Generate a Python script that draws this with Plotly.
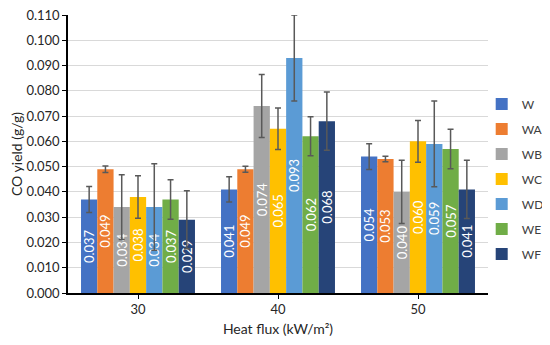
import plotly.graph_objects as go

categories = ["30", "40", "50"]
series_names = ["W", "WA", "WB", "WC", "WD", "WE", "WF"]
values = {
    "W":  [0.037, 0.041, 0.054],
    "WA": [0.049, 0.049, 0.053],
    "WB": [0.034, 0.074, 0.040],
    "WC": [0.038, 0.065, 0.060],
    "WD": [0.034, 0.093, 0.059],
    "WE": [0.037, 0.062, 0.057],
    "WF": [0.029, 0.068, 0.041],
}
errors = {
    "W":  [0.0051, 0.0050, 0.0051],
    "WA": [0.0013, 0.0012, 0.0011],
    "WB": [0.0128, 0.0125, 0.0125],
    "WC": [0.0084, 0.0082, 0.0083],
    "WD": [0.0171, 0.0170, 0.0170],
    "WE": [0.0078, 0.0077, 0.0078],
    "WF": [0.0115, 0.0115, 0.0115],
}
colors = ["#4472C4", "#ED7D31", "#A5A5A5", "#FFC000", "#5B9BD5", "#70AD47", "#264478"]
y_ticks = [round(i * 0.01, 2) for i in range(12)]

FONT = "Lato, Open Sans, sans-serif"

fig = go.Figure()
for name, col in zip(series_names, colors):
    fig.add_trace(go.Bar(
        name=name,
        legendgroup=name,
        x=categories,
        y=values[name],
        marker=dict(color=col, line=dict(width=0)),
        error_y=dict(type="data", array=errors[name], visible=True,
                     color="#595959", thickness=1.5, width=3),
        text=[f"{v:.3f}" for v in values[name]],
        textposition="inside",
        insidetextanchor="middle",
        textangle=-90,
        textfont=dict(color="white", size=13, family=FONT),
        constraintext="none",
        cliponaxis=False,
    ))

# page body adds an 8px offset; size the figure so the page does not overflow the window
fig.update_layout(
    barmode="group",
    bargap=0.186,
    bargroupgap=0,
    width=534, height=329,
    margin=dict(l=60, r=54, t=7, b=44, autoexpand=False),
    plot_bgcolor="white",
    paper_bgcolor="white",
    font=dict(family=FONT, size=13, color="#262626"),
    uniformtext=dict(mode="show", minsize=13),
    legend=dict(
        x=0.985, y=0.41, xanchor="left", yanchor="middle",
        font=dict(size=12, color="#404040", family=FONT),
        itemwidth=30, tracegroupgap=6,
        bgcolor="rgba(0,0,0,0)",
    ),
    xaxis=dict(
        type="category",
        range=[-0.5, 2.5],
        automargin=False,
        showline=True, linecolor="black", linewidth=1.5,
        ticks="outside", ticklen=4, tickcolor="black",
        tickfont=dict(size=13, color="#262626"),
        title=dict(text="Heat flux (kW/m²)", font=dict(size=14, color="#262626"), standoff=8),
        showgrid=False,
    ),
    yaxis=dict(
        range=[0, 0.110],
        automargin=False,
        tickvals=y_ticks,
        tickformat=".3f",
        ticklabeloverflow="allow",
        showline=True, linecolor="black", linewidth=1.5,
        ticks="outside", ticklen=4, tickcolor="black",
        gridcolor="#D9D9D9", gridwidth=1,
        tickfont=dict(size=13, color="#262626"),
        title=dict(text="CO yield (g/g)", font=dict(size=14, color="#262626"), standoff=6),
        zeroline=False,
    ),
)

fig.write_html("out.html")
